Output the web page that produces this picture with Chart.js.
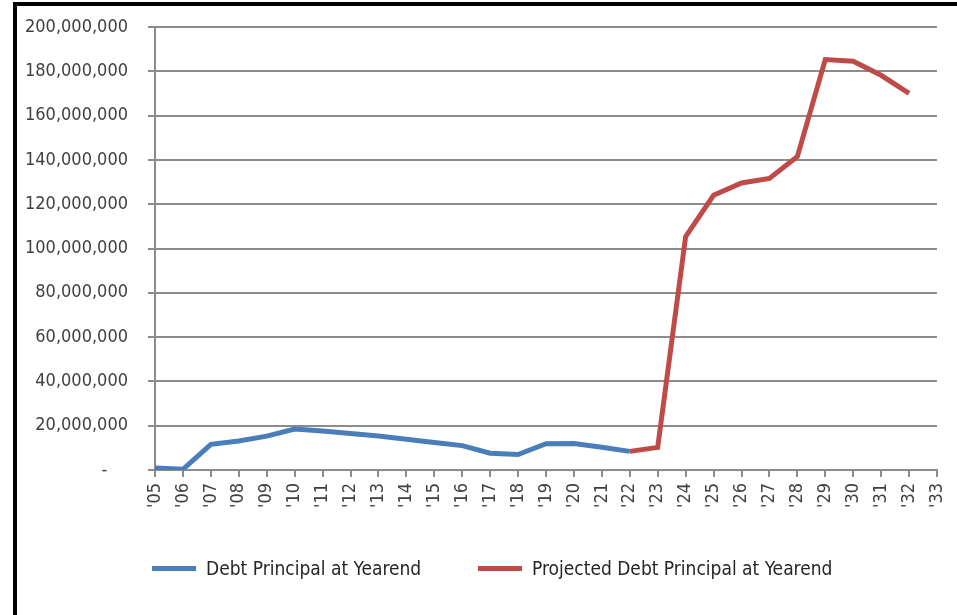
<!DOCTYPE html>
<html>
<head>
<meta charset="utf-8">
<script src="https://cdn.jsdelivr.net/npm/chart.js@4.4.1/dist/chart.umd.min.js"></script>
<style>
  html, body { margin: 0; padding: 0; background: #fff; }
  #wrap { position: relative; width: 957px; height: 615px; overflow: hidden; }
  #frame { position: absolute; left: 13px; top: 2px; width: 960px; height: 620px;
           border-left: 4px solid #000; border-top: 4px solid #000; }
  #chart { position: absolute; left: 0; top: 0; }
  .legend-item { position: absolute; top: 556px; height: 24px; display: flex; align-items: center;
                 font-family: "Liberation Sans Narrow", "DejaVu Sans Condensed", sans-serif;
                 font-size: 19px; color: #262626; white-space: nowrap; }
  .legend-line { width: 44px; height: 5px; margin-right: 10px; }
</style>
</head>
<body>
<div id="wrap">
  <div id="frame"></div>
  <canvas id="chart" width="957" height="615"></canvas>
  <div class="legend-item" style="left:152px"><span class="legend-line" style="background:#4a7ebb"></span>Debt Principal at Yearend</div>
  <div class="legend-item" style="left:478px"><span class="legend-line" style="background:#be4b48"></span>Projected Debt Principal at Yearend</div>
</div>
<script>
// Datos (millones)
const years = ["'05", "'06", "'07", "'08", "'09", "'10", "'11", "'12", "'13", "'14",
               "'15", "'16", "'17", "'18", "'19", "'20", "'21", "'22", "'23", "'24",
               "'25", "'26", "'27", "'28", "'29", "'30", "'31", "'32", "'33"];

const debtMillions = [0.9, 0.3, 11.6, 13.1, 15.3, 18.5, 17.6, 16.5, 15.3, 13.9,
                      12.4, 11.0, 7.6, 7.0, 11.9, 12.0, 10.3, 8.4];

const projectedMillions = [8.4, 10.2, 105.4, 124.0, 129.6, 131.6, 141.5, 185.3, 184.5, 178.2, 170.0];
const projectedStart = 17; // '22

const debt = years.map((y, i) => i < debtMillions.length ? debtMillions[i] * 1e6 : null);
const projected = years.map((y, i) => {
    const k = i - projectedStart;
    return k >= 0 && k < projectedMillions.length ? projectedMillions[k] * 1e6 : null;
});

const gridColor = '#8c8c8c';
const tickColor = '#404040';
const fontFamily = '"Liberation Sans Narrow", "DejaVu Sans Condensed", sans-serif';

new Chart(document.getElementById('chart'), {
    type: 'line',
    data: {
        labels: years,
        datasets: [{
            label: 'Debt Principal at Yearend',
            data: debt,
            borderColor: '#4a7ebb',
            backgroundColor: '#4a7ebb',
            borderWidth: 5,
            pointRadius: 0,
            tension: 0,
            spanGaps: false
        }, {
            label: 'Projected Debt Principal at Yearend',
            data: projected,
            borderColor: '#be4b48',
            backgroundColor: '#be4b48',
            borderWidth: 5,
            pointRadius: 0,
            tension: 0,
            spanGaps: false
        }]
    },
    options: {
        responsive: false,
        animation: false,
        layout: {
            padding: { top: 27, left: 0, right: 20, bottom: 85 }
        },
        plugins: {
            legend: { display: false },
            tooltip: { enabled: false }
        },
        scales: {
            x: {
                afterFit: (scale) => {
                    scale.height = 60;
                    scale.paddingLeft = 0;
                    scale.paddingRight = 0;
                },
                grid: {
                    drawOnChartArea: false,
                    drawTicks: true,
                    tickLength: 7,
                    color: gridColor,
                    lineWidth: 2
                },
                border: { color: gridColor, width: 2 },
                ticks: {
                    color: tickColor,
                    minRotation: 90,
                    maxRotation: 90,
                    autoSkip: false,
                    padding: 6,
                    font: { family: fontFamily, size: 18 }
                }
            },
            y: {
                min: 0,
                max: 200000000,
                afterFit: (scale) => {
                    scale.width = 155;
                    scale.paddingTop = 0;
                    scale.paddingBottom = 0;
                },
                grid: {
                    color: gridColor,
                    lineWidth: 2,
                    tickLength: 7
                },
                border: { color: gridColor, width: 2 },
                ticks: {
                    stepSize: 20000000,
                    color: tickColor,
                    padding: 20,
                    font: { family: fontFamily, size: 18 },
                    callback: (v) => v === 0 ? '-    ' : v.toLocaleString('en-US')
                }
            }
        }
    }
});
</script>
</body>
</html>
